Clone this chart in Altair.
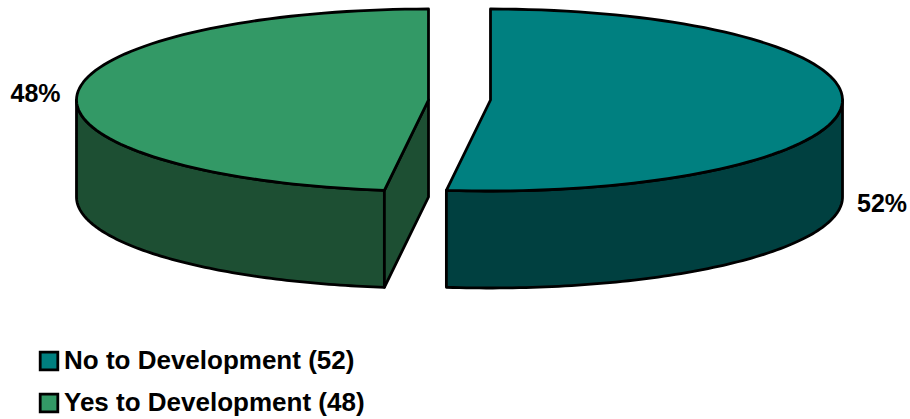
import math
import altair as alt

# Slice values, drawn clockwise from twelve o'clock for the first one
names = ["No to Development (52)", "Yes to Development (48)"]
values = [52, 48]
labels = ["52%", "48%"]
top_colors = ["#008080", "#339966"]
side_colors = ["#004040", "#1D4F33"]

# Pie geometry in chart units
RX, RY, DEPTH = 352, 91, 97
CY = 100
APEX_X = [490.5, 428.5]
LABEL_POS = [(882, 204), (35.5, 94)]
STROKE = 2.8
total = sum(values)


def rim(cx, start, stop, drop=0.0, steps=90):
    """Points along the ellipse rim; angles in degrees clockwise from the top."""
    pts = []
    for i in range(steps + 1):
        a = math.radians(start + (stop - start) * i / steps)
        pts.append([cx + RX * math.sin(a), CY - RY * math.cos(a) + drop])
    return pts


def feature(ring, name=None):
    ring = ring + [ring[0]]
    return {
        "type": "Feature",
        "geometry": {"type": "Polygon", "coordinates": [ring]},
        "properties": {"name": name},
    }


sweep_no = 360 * values[0] / total
sweep_yes = 360 * values[1] / total

# Top faces
top_no = feature([[APEX_X[0], CY]] + rim(APEX_X[0], 0, sweep_no), names[0])
top_yes = feature([[APEX_X[1], CY]] + rim(APEX_X[1], 0, -sweep_yes), names[1])

# Outer walls: the front half of each rim, extruded downward
wall_no_top = rim(APEX_X[0], 90, sweep_no)
wall_no_bot = rim(APEX_X[0], 90, sweep_no, DEPTH)
wall_no = feature(wall_no_top + wall_no_bot[::-1])

wall_yes_top = rim(APEX_X[1], -90, -sweep_yes)
wall_yes_bot = rim(APEX_X[1], -90, -sweep_yes, DEPTH)
wall_yes = feature(wall_yes_top + wall_yes_bot[::-1])

# Cut face of the left slice, visible through the gap
edge = rim(APEX_X[1], -sweep_yes, -sweep_yes, steps=1)[0]
cut_yes = feature([
    [APEX_X[1], CY],
    edge,
    [edge[0], edge[1] + DEPTH],
    [APEX_X[1], CY + DEPTH],
])

projection = alt.Projection(type="identity", scale=1, translate=[0, 0])


def shapes(features):
    return alt.Chart(alt.Data(values=features)).mark_geoshape(
        stroke="black", strokeWidth=STROKE, strokeJoin="round"
    ).project(**projection.to_dict())


walls_yes = shapes([wall_yes, cut_yes]).encode(fill=alt.value(side_colors[1]))
walls_no = shapes([wall_no]).encode(fill=alt.value(side_colors[0]))

tops = shapes([top_no, top_yes]).encode(
    fill=alt.Fill(
        "properties.name:N",
        scale=alt.Scale(domain=names, range=top_colors),
        legend=alt.Legend(
            title=None,
            orient="none",
            legendX=36,
            legendY=348,
            symbolType="square",
            symbolSize=310,
            symbolStrokeColor="black",
            symbolStrokeWidth=STROKE,
            symbolOpacity=1,
            labelFont="Liberation Sans",
            labelFontWeight="bold",
            labelFontSize=26,
            labelColor="black",
            labelLimit=400,
            labelOffset=2,
            rowPadding=12,
        ),
    )
)

percent = alt.Chart(
    alt.Data(values=[
        {"label": t, "lon": p[0], "lat": p[1]} for t, p in zip(labels, LABEL_POS)
    ])
).mark_text(
    font="Liberation Sans", fontWeight="bold", fontSize=25, color="black"
).encode(
    longitude="lon:Q", latitude="lat:Q", text="label:N"
).project(**projection.to_dict())

chart = (
    alt.layer(walls_yes, walls_no, tops, percent)
    .properties(
        width=910,
        height=419,
        padding=0,
        autosize=alt.AutoSizeParams(type="none"),
        background="white",
    )
    .configure_view(stroke=None)
)

chart.save("out.html", embed_options={"renderer": "svg", "actions": False})
